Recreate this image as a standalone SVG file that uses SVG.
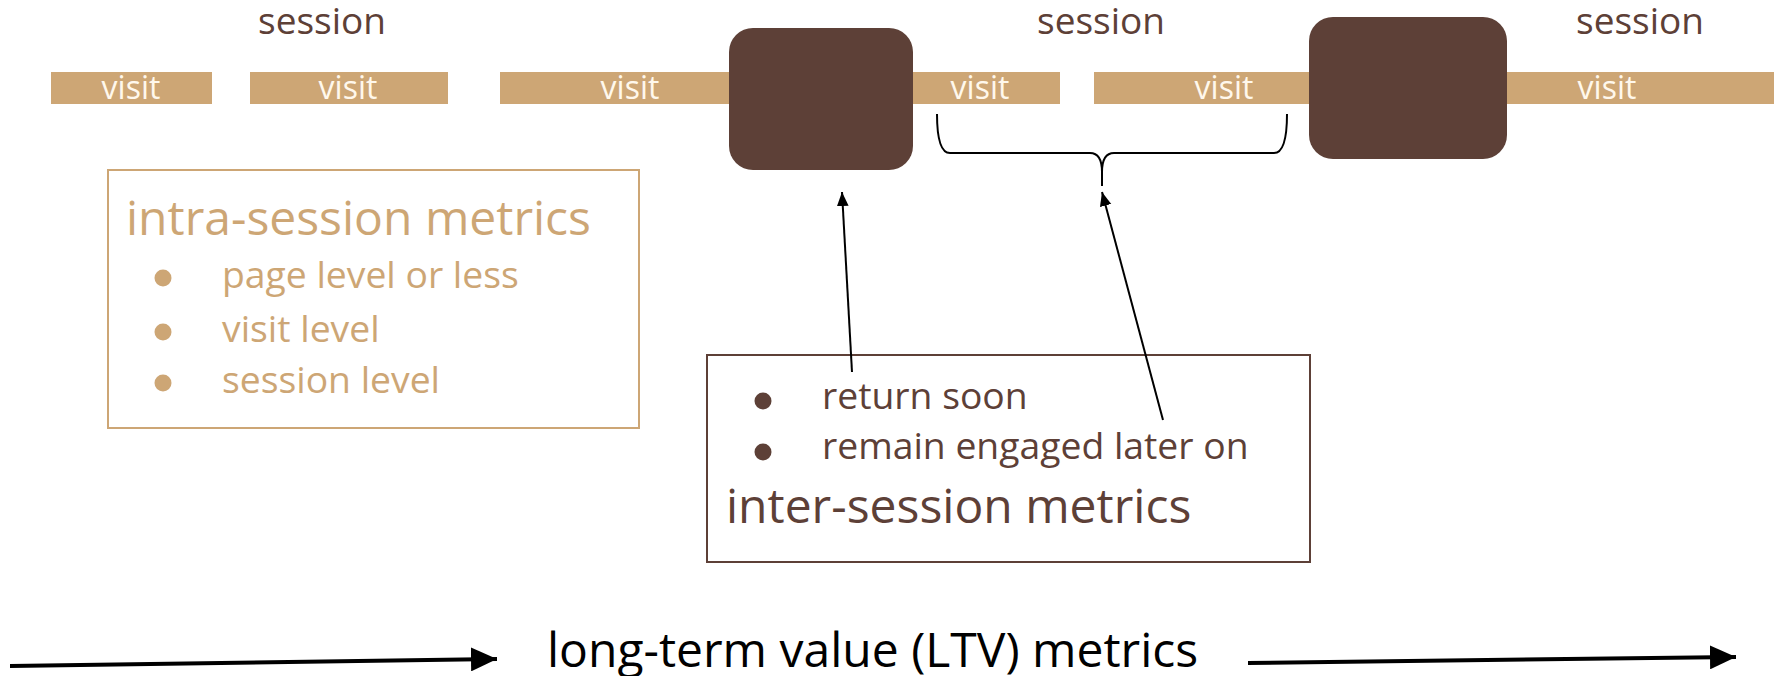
<svg xmlns="http://www.w3.org/2000/svg" width="1783" height="676" viewBox="0 0 1783 676">
  <style>
    text { font-family: "Open Sans", "Noto Sans", "Liberation Sans", sans-serif; }
    .bar { fill: #CDA675; }
    .visit { fill: #FFF8EC; font-size: 32px; text-anchor: middle; }
    .session { fill: #5D4037; font-size: 37px; text-anchor: middle; }
    .blk { fill: #5D4037; }
    .tan-t { fill: #CDA675; }
    .brown-t { fill: #5D4037; }
    .title { font-size: 48px; }
    .item { font-size: 37.3px; }
    .conn { fill: none; stroke: #000; stroke-width: 2; }
    .big { fill: none; stroke: #000; stroke-width: 4; }
  </style>
  <defs>
    <marker id="ah" markerUnits="userSpaceOnUse" markerWidth="14" markerHeight="14" viewBox="0 0 12 10" refX="12" refY="5" orient="auto">
      <path d="M0,0 L12,5 L0,10 Z" fill="#000"/>
    </marker>
    <marker id="ahb" markerUnits="userSpaceOnUse" markerWidth="26" markerHeight="24" viewBox="0 0 26 24" refX="26" refY="12" orient="auto">
      <path d="M0,0 L26,12 L0,24 Z" fill="#000"/>
    </marker>
  </defs>

  <g id="visits">
    <g id="visit1"><rect class="bar" x="51" y="72" width="161" height="32"/><text class="visit" x="131" y="99">visit</text></g>
    <g id="visit2"><rect class="bar" x="250" y="72" width="198" height="32"/><text class="visit" x="348" y="99">visit</text></g>
    <g id="visit3"><rect class="bar" x="500" y="72" width="235" height="32"/><text class="visit" x="630" y="99">visit</text></g>
    <g id="visit4"><rect class="bar" x="905" y="72" width="155" height="32"/><text class="visit" x="980" y="99">visit</text></g>
    <g id="visit5"><rect class="bar" x="1094" y="72" width="220" height="32"/><text class="visit" x="1224" y="99">visit</text></g>
    <g id="visit6"><rect class="bar" x="1500" y="72" width="274" height="32"/><text class="visit" x="1607" y="99">visit</text></g>
  </g>

  <g id="sessions">
    <text class="session" x="322" y="34">session</text>
    <text class="session" x="1101" y="34">session</text>
    <text class="session" x="1640" y="34">session</text>
  </g>

  <g id="gap1"><rect class="blk" x="729" y="28" width="184" height="142" rx="24"/></g>
  <g id="gap2"><rect class="blk" x="1309" y="17" width="198" height="142" rx="24"/></g>

  <g id="intra">
    <rect x="108" y="170" width="531" height="258" fill="none" stroke="#CDA675" stroke-width="2"/>
    <text class="tan-t title" x="126" y="235">intra-session metrics</text>
    <circle class="tan-t" cx="163" cy="278" r="8.5"/>
    <circle class="tan-t" cx="163" cy="332" r="8.5"/>
    <circle class="tan-t" cx="163" cy="383" r="8.5"/>
    <text class="tan-t item" x="222" y="288">page level or less</text>
    <text class="tan-t item" x="222" y="342">visit level</text>
    <text class="tan-t item" x="222" y="393">session level</text>
  </g>

  <g id="inter">
    <rect x="707" y="355" width="603" height="207" fill="none" stroke="#5D4037" stroke-width="2"/>
    <circle class="brown-t" cx="763" cy="401" r="8.5"/>
    <circle class="brown-t" cx="763" cy="452" r="8.5"/>
    <text class="brown-t item" x="822" y="409">return soon</text>
    <text class="brown-t item" x="822" y="459">remain engaged later on</text>
    <text class="brown-t title" x="726" y="523">inter-session metrics</text>
  </g>

  <g id="ltv">
    <text x="547" y="667" font-size="48" fill="#000">long-term value (LTV) metrics</text>
  </g>

  <g id="connectors">
    <path class="conn" d="M937,114 Q937,153 950,153 L1090,153 Q1102,153 1102,172 L1102,186 M1102,172 Q1102,153 1114,153 L1274,153 Q1287,153 1287,114"/>
    <line class="conn" x1="852" y1="372" x2="842" y2="192" marker-end="url(#ah)"/>
    <line class="conn" x1="1163" y1="420" x2="1102" y2="192" marker-end="url(#ah)"/>
    <line class="big" x1="10" y1="666" x2="497" y2="659" marker-end="url(#ahb)"/>
    <line class="big" x1="1248" y1="663" x2="1736" y2="657" marker-end="url(#ahb)"/>
  </g>
</svg>
